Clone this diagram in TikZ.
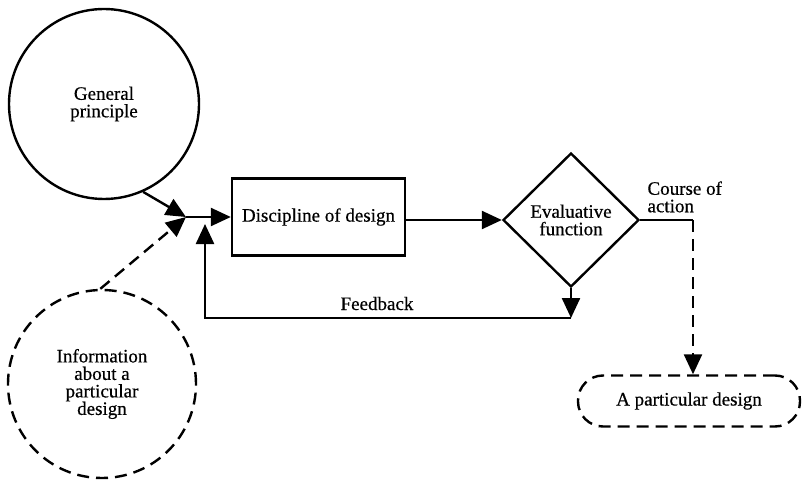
\documentclass[tikz,border=0pt]{standalone}
\usepackage{fontspec}
\setmainfont{Liberation Serif}[FakeBold=0.5]
\usetikzlibrary{arrows.meta,shapes.geometric,calc}
\begin{document}
\begin{tikzpicture}[x=1pt,y=1pt,
  every node/.style={font=\fontsize{19}{17.5}\selectfont},
  ln/.style={line width=2.4pt},
  arr/.style={ln,-{Triangle[length=20pt,width=18pt]}},
  dsh/.style={dash pattern=on 12pt off 7pt},
  ]
\useasboundingbox (0,0) rectangle (803,480);
\node[circle,draw,ln,minimum size=190pt,inner sep=0,align=center] (gp) at (104,376) {General\\principle};
\node[circle,draw,ln,dsh,minimum size=188pt,inner sep=0,align=center] (info) at (102,96) {Information\\about a\\particular\\design};
\node[draw,ln,minimum width=173pt,minimum height=77pt,inner sep=0] (dd) at (318.5,263) {Discipline of design};
\node[diamond,draw,ln,minimum width=136pt,minimum height=134pt,inner sep=0,align=center] (ev) at (571,260) {Evaluative\\function};
\node[draw,ln,dsh,rounded corners=25pt,minimum width=222pt,minimum height=51pt] (pd) at (689,79) {A particular design};
\coordinate (J) at (186,263);
\draw[arr] (gp.-66) -- (J);
\draw[arr,dsh] (info.91) -- (J);
\draw[arr] (J) -- (dd.west);
\draw[arr] (dd.east |- ev.west) -- (ev.west);
\coordinate (fc) at (571,162);
\coordinate (fu) at (205,256);
\draw[arr] (ev.south) -- (fc);
\draw[arr] (fc) -- (fu |- fc) -- (fu);
\node[anchor=base] (fb) at (377,170) {Feedback};
\coordinate (cc) at (693,260);
\draw[ln] (ev.east) -- (cc);
\draw[arr,dsh] (cc) -- (cc |- pd.north);
\node[align=left,anchor=south west] (ca) at (644,264) {Course of\\action};
\end{tikzpicture}
\end{document}
